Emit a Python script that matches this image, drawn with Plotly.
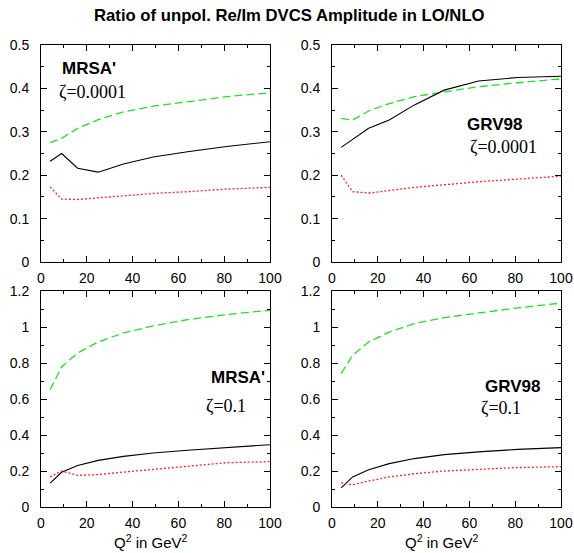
import plotly.graph_objects as go

W, H = 574, 553

q2 = [4, 9, 16, 25, 36, 49, 64, 81, 100]

# Top-left: MRSA', zeta=0.0001
tl_black = [0.232, 0.250, 0.216, 0.207, 0.226, 0.242, 0.254, 0.266, 0.277]
tl_green = [0.275, 0.285, 0.308, 0.328, 0.346, 0.359, 0.369, 0.381, 0.390]
tl_red = [0.173, 0.145, 0.144, 0.148, 0.152, 0.158, 0.162, 0.168, 0.172]

# Top-right: GRV98, zeta=0.0001
tr_black = [0.264, 0.282, 0.308, 0.327, 0.362, 0.396, 0.417, 0.425, 0.428]
tr_green = [0.331, 0.327, 0.348, 0.365, 0.381, 0.392, 0.404, 0.413, 0.422]
tr_red = [0.200, 0.162, 0.159, 0.165, 0.172, 0.178, 0.185, 0.191, 0.198]

# Bottom-left: MRSA', zeta=0.1
bl_black = [0.133, 0.193, 0.231, 0.259, 0.281, 0.300, 0.315, 0.330, 0.346]
bl_green = [0.652, 0.778, 0.856, 0.917, 0.967, 1.006, 1.041, 1.069, 1.093]
bl_red = [0.167, 0.200, 0.176, 0.180, 0.194, 0.207, 0.226, 0.246, 0.252]

# Bottom-right: GRV98, zeta=0.1
br_black = [0.106, 0.167, 0.207, 0.241, 0.269, 0.291, 0.306, 0.320, 0.330]
br_green = [0.741, 0.843, 0.917, 0.972, 1.019, 1.052, 1.078, 1.106, 1.133]
br_red = [0.135, 0.124, 0.144, 0.167, 0.185, 0.200, 0.209, 0.219, 0.224]

title_text = "Ratio of unpol. Re/Im DVCS Amplitude in LO/NLO"
xlabel = "Q<sup>2</sup> in GeV<sup>2</sup>"

panels = [
    ("", tl_black, tl_green, tl_red, 0.5, 0.1, 0.05, "MRSA'", "ζ=0.0001", (41, 270), (45, 262), (60, 68), (57, 92)),
    ("2", tr_black, tr_green, tr_red, 0.5, 0.1, 0.05, "GRV98", "ζ=0.0001", (332, 561), (45, 262), (465, 124), (468, 147)),
    ("3", bl_black, bl_green, bl_red, 1.2, 0.2, 0.1, "MRSA'", "ζ=0.1", (41, 270), (291, 507), (209, 377), (204, 406)),
    ("4", br_black, br_green, br_red, 1.2, 0.2, 0.1, "GRV98", "ζ=0.1", (332, 561), (291, 507), (483, 386), (479, 408)),
]

fig = go.Figure()
annotations = []
font_sans = "Liberation Sans, Arial, sans-serif"
font_serif = "Liberation Serif, Times New Roman, serif"

for i, (suf, blk, grn, red, ymax, dt, mdt, pdf, zeta, xd, yd, lp, zp) in enumerate(panels):
    xa = "x" + suf
    ya = "y" + suf
    fig.add_trace(go.Scatter(x=q2, y=grn, mode="lines", xaxis=xa, yaxis=ya,
                             line=dict(color="#22e022", width=1.3, dash="8px,4px"), showlegend=False))
    fig.add_trace(go.Scatter(x=q2, y=blk, mode="lines", xaxis=xa, yaxis=ya,
                             line=dict(color="black", width=1.1), showlegend=False))
    fig.add_trace(go.Scatter(x=q2, y=red, mode="lines", xaxis=xa, yaxis=ya,
                             line=dict(color="#ff2020", width=1.3, dash="2px,2px"), showlegend=False))
    common = dict(showline=True, linecolor="black", linewidth=1, mirror="ticks",
                  ticks="inside", ticklen=6, tickwidth=1, tickcolor="black",
                  showgrid=False, zeroline=False, automargin=False,
                  tickfont=dict(family=font_sans, size=14, color="black"))
    xkw = dict(common, domain=[xd[0] / W, xd[1] / W], range=[0, 100], tick0=0, dtick=20,
               minor=dict(ticks="inside", ticklen=3, dtick=10, tickcolor="black", showgrid=False),
               anchor=ya, ticklabelstandoff=3)
    ykw = dict(common, domain=[1 - yd[1] / H, 1 - yd[0] / H], range=[0, ymax], tick0=0, dtick=dt,
               minor=dict(ticks="inside", ticklen=3, dtick=mdt, tickcolor="black", showgrid=False),
               anchor=xa, ticklabelstandoff=8)
    fig.update_layout(**{"xaxis" + suf: xkw, "yaxis" + suf: ykw})
    annotations.append(dict(text="<b>" + pdf + "</b>", xref="paper", yref="paper",
                            x=lp[0] / W, y=1 - lp[1] / H, xanchor="left", yanchor="middle",
                            showarrow=False, font=dict(family=font_sans, size=17, color="black")))
    annotations.append(dict(text=zeta, xref="paper", yref="paper",
                            x=zp[0] / W, y=1 - zp[1] / H, xanchor="left", yanchor="middle",
                            showarrow=False, font=dict(family=font_serif, size=18, color="black")))
    if i >= 2:
        annotations.append(dict(text=xlabel, xref="paper", yref="paper",
                                x=((xd[0] + xd[1]) / 2 - 5) / W, y=1 - 541 / H,
                                xanchor="center", yanchor="middle", showarrow=False,
                                font=dict(family=font_sans, size=15, color="black")))

annotations.append(dict(text="<b>" + title_text + "</b>", xref="paper", yref="paper",
                        x=289 / W, y=1 - 16 / H, xanchor="center", yanchor="middle",
                        showarrow=False, font=dict(family=font_sans, size=16.7, color="black")))

fig.update_layout(width=W, height=H, margin=dict(l=0, r=0, t=0, b=0),
                  paper_bgcolor="white", plot_bgcolor="white",
                  annotations=annotations, showlegend=False)

fig.write_html("out.html", config={"displayModeBar": False},
               post_script="document.body.style.margin='0';document.body.style.overflow='hidden';")
